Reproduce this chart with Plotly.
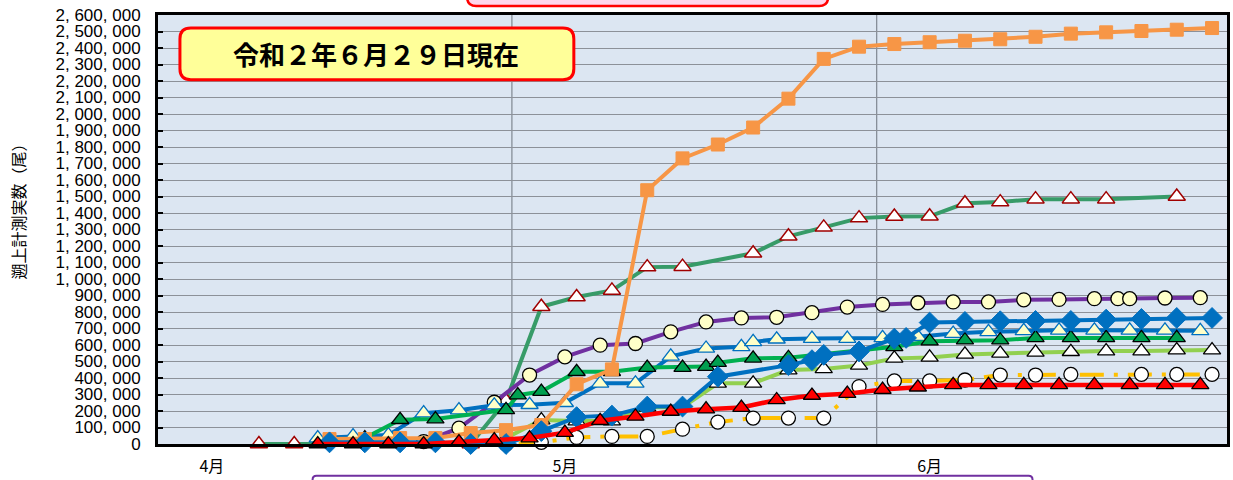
import plotly.graph_objects as go

# ---------------- data ----------------
a_dates = ["2020-04-05", "2020-04-08", "2020-04-23", "2020-04-26", "2020-04-29", "2020-05-02",
           "2020-05-05", "2020-05-08", "2020-05-11", "2020-05-17", "2020-05-20", "2020-05-23",
           "2020-05-26", "2020-05-29", "2020-06-01", "2020-06-04", "2020-06-07", "2020-06-10",
           "2020-06-13", "2020-06-16", "2020-06-22"]
a_vals = [0, 0, 0, 262000, 832000, 891000, 931000, 1072000, 1075000, 1156000, 1259000, 1313000,
          1369000, 1379000, 1380000, 1459000, 1466000, 1484000, 1484000, 1484000, 1500000]

b_dates = ["2020-04-11", "2020-04-14", "2020-04-17", "2020-04-20", "2020-04-23", "2020-04-26",
           "2020-04-29", "2020-05-02", "2020-05-05", "2020-05-08", "2020-05-11", "2020-05-14",
           "2020-05-17", "2020-05-20", "2020-05-23", "2020-05-26", "2020-05-29", "2020-06-01",
           "2020-06-04", "2020-06-07", "2020-06-10", "2020-06-13", "2020-06-16", "2020-06-19",
           "2020-06-22", "2020-06-25"]
b_vals = [30000, 30000, 36000, 36000, 66000, 84000, 115000, 362000, 452000, 1538000, 1731000,
          1815000, 1918000, 2093000, 2334000, 2408000, 2424000, 2435000, 2444000, 2453000,
          2468000, 2487000, 2495000, 2503000, 2511000, 2521000]

c_dates = ["2020-04-19", "2020-04-22", "2020-04-25", "2020-04-28", "2020-05-01", "2020-05-04",
           "2020-05-07", "2020-05-10", "2020-05-13", "2020-05-16", "2020-05-19", "2020-05-22",
           "2020-05-25", "2020-05-28", "2020-05-31", "2020-06-03", "2020-06-06", "2020-06-09",
           "2020-06-12", "2020-06-15", "2020-06-17", "2020-06-18", "2020-06-21", "2020-06-24"]
c_vals = [15000, 96000, 253000, 418000, 528000, 599000, 609000, 680000, 740000, 764000, 768000,
          796000, 830000, 846000, 856000, 861000, 861000, 874000, 876000, 881000, 881000, 881000,
          885000, 887000]

d_dates = ["2020-04-10", "2020-04-13", "2020-04-16", "2020-04-19", "2020-04-22", "2020-04-25",
           "2020-04-28", "2020-05-01", "2020-05-04", "2020-05-07", "2020-05-10", "2020-05-13",
           "2020-05-16", "2020-05-17", "2020-05-19", "2020-05-22", "2020-05-25", "2020-05-28",
           "2020-05-31", "2020-06-03", "2020-06-06", "2020-06-09", "2020-06-12", "2020-06-15",
           "2020-06-18", "2020-06-21", "2020-06-24"]
d_vals = [36000, 48000, 54000, 187000, 205000, 235000, 238000, 250000, 368000, 368000, 531000,
          579000, 589000, 619000, 635000, 639000, 639000, 643000, 650000, 669000, 680000, 686000,
          689000, 689000, 689000, 689000, 686000]

e_dates = ["2020-04-14", "2020-04-17", "2020-04-20", "2020-04-26", "2020-04-27", "2020-04-29",
           "2020-05-02", "2020-05-05", "2020-05-08", "2020-05-11", "2020-05-13", "2020-05-14",
           "2020-05-17", "2020-05-20", "2020-05-29", "2020-06-01", "2020-06-04", "2020-06-07",
           "2020-06-10", "2020-06-13", "2020-06-16", "2020-06-19", "2020-06-22"]
e_vals = [36000, 147000, 151000, 207000, 296000, 318000, 438000, 438000, 463000, 463000, 469000,
          493000, 519000, 523000, 589000, 623000, 629000, 629000, 643000, 643000, 643000, 643000,
          643000]

f_dates = ["2020-04-11", "2020-04-14", "2020-04-17", "2020-04-20", "2020-04-23", "2020-04-26",
           "2020-04-29", "2020-05-02", "2020-05-05", "2020-05-08", "2020-05-11", "2020-05-14",
           "2020-05-20", "2020-05-22", "2020-05-23", "2020-05-26", "2020-05-29", "2020-05-30",
           "2020-06-01", "2020-06-04", "2020-06-07", "2020-06-10", "2020-06-13", "2020-06-16",
           "2020-06-19", "2020-06-22", "2020-06-25"]
f_vals = [10000, 10000, 10000, 10000, 0, 0, 78000, 163000, 172000, 227000, 227000, 408000,
          478000, 508000, 540000, 561000, 639000, 643000, 736000, 740000, 744000, 746000, 746000,
          754000, 758000, 764000, 764000]

g_dates = ["2020-04-26", "2020-04-29", "2020-05-02", "2020-05-05", "2020-05-08", "2020-05-11",
           "2020-05-14", "2020-05-17", "2020-05-20", "2020-05-23", "2020-05-26", "2020-05-29",
           "2020-06-01", "2020-06-04", "2020-06-07", "2020-06-10", "2020-06-13", "2020-06-16",
           "2020-06-19", "2020-06-22", "2020-06-25"]
g_vals = [36000, 145000, 139000, 139000, 222000, 222000, 368000, 368000, 448000, 455000, 476000,
          519000, 525000, 543000, 549000, 555000, 559000, 563000, 563000, 569000, 569000]

h_dates = ["2020-04-23", "2020-04-26", "2020-04-29", "2020-05-02", "2020-05-05", "2020-05-08",
           "2020-05-11", "2020-05-14", "2020-05-17", "2020-05-20", "2020-05-23", "2020-05-26",
           "2020-05-29", "2020-06-01", "2020-06-04", "2020-06-07", "2020-06-10", "2020-06-13",
           "2020-06-19", "2020-06-22", "2020-06-25"]
h_vals = [0, 0, 10000, 40000, 46000, 46000, 90000, 133000, 157000, 157000, 157000, 348000,
          382000, 382000, 388000, 418000, 418000, 422000, 422000, 422000, 422000]

i_dates = ["2020-04-10", "2020-04-13", "2020-04-16", "2020-04-19", "2020-04-22", "2020-04-25",
           "2020-04-28", "2020-05-01", "2020-05-04", "2020-05-07", "2020-05-10", "2020-05-13",
           "2020-05-16", "2020-05-19", "2020-05-22", "2020-05-25", "2020-05-28", "2020-05-31",
           "2020-06-03", "2020-06-06", "2020-06-09", "2020-06-12", "2020-06-15", "2020-06-18",
           "2020-06-21", "2020-06-24"]
i_vals = [0, 0, 0, 0, 12000, 24000, 36000, 69000, 141000, 167000, 197000, 211000, 221000, 267000,
          294000, 305000, 330000, 344000, 358000, 358000, 358000, 358000, 358000, 358000, 358000,
          358000]

month_ticks = ["2020-04-01", "2020-05-01", "2020-06-01"]
month_labels = ["4月", "5月", "6月"]
y_ticks = list(range(0, 2600001, 100000))
y_labels = [f"{v:,}".replace(",", ", ") for v in y_ticks]
title_text = "令和２年６月２９日現在"
y_title = "遡上計測実数（尾）"

# ---------------- layout geometry ----------------
W, H = 1233, 480
ML, MR, MT, MB = 158, 3, 15, 34
PW, PH = W - ML - MR, H - MT - MB


def pxx(px):
    return (px - ML) / PW


def pxy(py):
    return (H - MB - py) / PH


def rrect(x0, y0, x1, y1, r):
    rx, ry = r / PW, r / PH
    X0, X1, Yt, Yb = pxx(x0), pxx(x1), pxy(y0), pxy(y1)
    return (f"M {X0+rx},{Yt} L {X1-rx},{Yt} Q {X1},{Yt} {X1},{Yt-ry} "
            f"L {X1},{Yb+ry} Q {X1},{Yb} {X1-rx},{Yb} L {X0+rx},{Yb} "
            f"Q {X0},{Yb} {X0},{Yb+ry} L {X0},{Yt-ry} Q {X0},{Yt} {X0+rx},{Yt} Z")


fig = go.Figure()


def add(x, y, color, width, symbol, size, fill, edge, edgew, dash="solid"):
    fig.add_trace(go.Scatter(
        x=x, y=y, mode="lines+markers", cliponaxis=False,
        line=dict(color=color, width=width, dash=dash),
        marker=dict(symbol=symbol, size=size, color=fill, line=dict(color=edge, width=edgew)),
        hoverinfo="x+y"))


TRI = 15
add(a_dates, a_vals, "#379B68", 4, "triangle-up", TRI, "#FFFFFF", "#A00000", 1.5)
add(c_dates, c_vals, "#7030A0", 4, "circle", 14, "#FFFFC8", "#000000", 1.3)
add(d_dates, d_vals, "#0070C0", 4, "triangle-up", TRI, "#FFFFC8", "#0070C0", 1.3)
add(e_dates, e_vals, "#00B050", 4, "triangle-up", TRI, "#00A050", "#000000", 1.3)
add(g_dates, g_vals, "#92D050", 4, "triangle-up", TRI, "#FFFFFF", "#000000", 1.3)
add(h_dates, h_vals, "#FFC000", 4, "circle", 14, "#FFFFFF", "#000000", 1.3,
    dash="24px,10px,4px,10px")
add(b_dates, b_vals, "#F79646", 4, "square", 13, "#F79646", "#F79646", 1)
add(f_dates, f_vals, "#0070C0", 4, "diamond", 16, "#0070C0", "#0070C0", 1)
add(i_dates, i_vals, "#FF0000", 4.5, "triangle-up", TRI, "#FF0000", "#000000", 1.3)

shapes = [
    # vertical gridlines
    dict(type="line", xref="x", yref="paper", x0="2020-04-26 12:00", x1="2020-04-26 12:00",
         y0=0, y1=1, line=dict(color="#7F8790", width=1.2), layer="below"),
    dict(type="line", xref="x", yref="paper", x0="2020-05-27 12:00", x1="2020-05-27 12:00",
         y0=0, y1=1, line=dict(color="#7F8790", width=1.2), layer="below"),
    # date box
    dict(type="path", xref="paper", yref="paper", path=rrect(180, 28, 575, 80, 11),
         fillcolor="#FFFF99", line=dict(color="#FF0000", width=3), layer="above"),
    # pink box at top (cut off)
    dict(type="path", xref="paper", yref="paper", path=rrect(468, -30, 830, 6, 9),
         fillcolor="#FFD6EC", line=dict(color="#FF0000", width=2.5), layer="above"),
    # purple box at bottom (cut off)
    dict(type="path", xref="paper", yref="paper", path=rrect(313, 478, 1035, 520, 4),
         fillcolor="rgba(255,255,255,0)", line=dict(color="#7030A0", width=2), layer="above"),
]

annotations = [
    dict(text=f"<b>{title_text}</b>", xref="paper", yref="paper", x=pxx(377), y=pxy(54),
         showarrow=False, xanchor="center", yanchor="middle",
         font=dict(family="Noto Sans CJK JP", size=26, color="#000000")),
    dict(text=y_title, xref="paper", yref="paper", x=pxx(18), y=pxy(208), textangle=-90,
         showarrow=False, xanchor="center", yanchor="middle",
         font=dict(family="Noto Sans CJK JP", size=16, color="#000000")),
]

fig.update_layout(
    width=W, height=H, margin=dict(l=ML, r=MR, t=MT, b=MB, pad=0),
    paper_bgcolor="#FFFFFF", plot_bgcolor="#DCE6F2", showlegend=False,
    shapes=shapes, annotations=annotations,
    xaxis=dict(type="date", range=["2020-03-27 10:10", "2020-06-26 06:30"],
               tickvals=month_ticks, ticktext=month_labels, showgrid=False, zeroline=False,
               showline=True, linecolor="#000000", linewidth=3, mirror=True, ticks="",
               ticklabelstandoff=6,
               tickfont=dict(family="Noto Sans CJK JP", size=16, color="#000000")),
    yaxis=dict(range=[0, 2600000], tickvals=y_ticks, ticktext=y_labels, showgrid=True,
               gridcolor="#8C9199", gridwidth=1.2, zeroline=False, showline=True,
               linecolor="#000000", linewidth=3, mirror=True, ticks="inside", ticklen=5,
               tickwidth=2, tickcolor="#000000", ticklabelstandoff=11,
               tickfont=dict(family="Liberation Sans, Arial, sans-serif", size=17,
                             color="#000000")),
)

fig.write_html("out.html", config={"displayModeBar": False},
               post_script="document.body.style.margin='0px';"
                           "document.body.style.overflow='hidden';")
